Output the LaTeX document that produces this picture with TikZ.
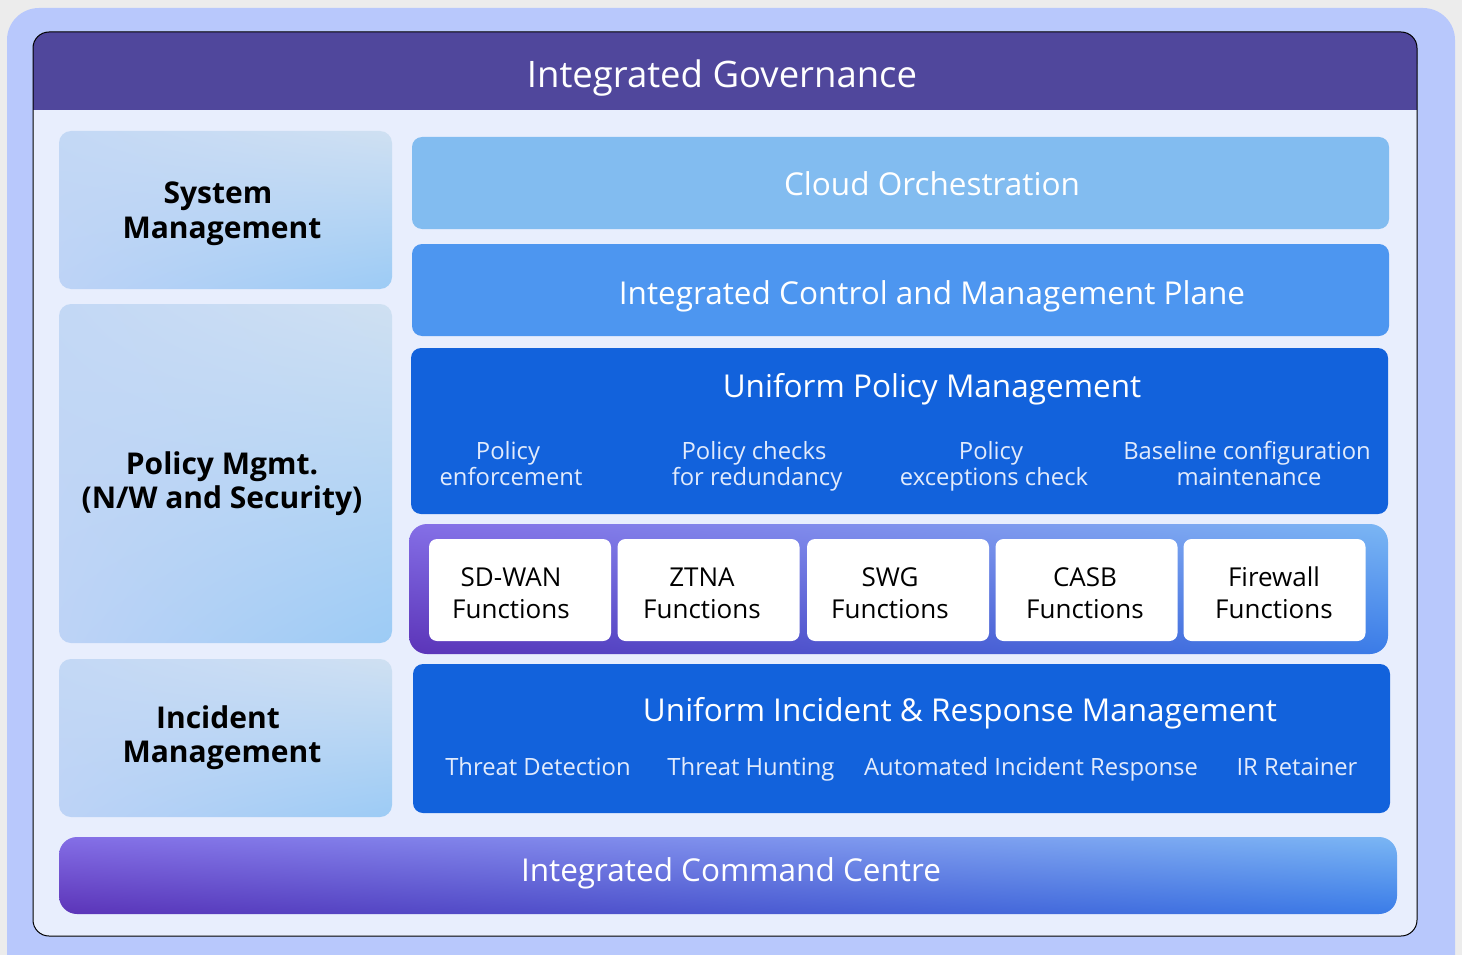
\documentclass[tikz,border=0pt]{standalone}
\usepackage{fontspec}
\setmainfont{Open Sans}
\usetikzlibrary{shadings}
\definecolor{bggray}{HTML}{ECECEC}
\definecolor{lav}{HTML}{B8C8FC}
\definecolor{panel}{HTML}{E8EEFD}
\definecolor{hdr}{HTML}{50479C}
\definecolor{cloudc}{HTML}{82BCF0}
\definecolor{ctrlc}{HTML}{4D96F0}
\definecolor{deepc}{HTML}{1262DC}
\definecolor{subc}{HTML}{E2EBFC}
\definecolor{lbUL}{HTML}{C3D8F5}
\definecolor{lbUR}{HTML}{CFE0F2}
\definecolor{lbLL}{HTML}{BDD3F6}
\definecolor{lbLR}{HTML}{9CCBF5}
\definecolor{gUL}{HTML}{846EE6}
\definecolor{gUR}{HTML}{7AB6F4}
\definecolor{gLL}{HTML}{5C34B8}
\definecolor{gLR}{HTML}{3A7CE8}
\tikzset{
  leftbox/.style={rounded corners=12pt, minimum width=333pt, inner sep=0pt,
    upper left=lbUL, upper right=lbUR, lower left=lbLL, lower right=lbLR},
  rbox/.style={rounded corners=10pt, minimum width=977pt, inner sep=0pt},
  fnbox/.style={fill=white, rounded corners=8pt, minimum width=182pt, minimum height=102pt, inner sep=0pt},
  gradbar/.style={inner sep=0pt,
    upper left=gUL, upper right=gUR, lower left=gLL, lower right=gLR},
  lbl/.style={font=\fontsize{30}{34}\selectfont\bfseries, text=black, inner sep=0pt, anchor=base},
  head/.style={font=\fontsize{31.5}{36}\selectfont, text=white, inner sep=0pt, anchor=base},
  sub/.style={font=\fontsize{23.8}{27}\selectfont, text=subc, inner sep=0pt, anchor=base},
  fn/.style={font=\fontsize{26}{32}\selectfont, text=black, inner sep=0pt, anchor=base}
}
\begin{document}
\begin{tikzpicture}[x=1pt,y=-1pt]
\useasboundingbox (0,0) rectangle (1462,955);
\clip (0,0) rectangle (1462,955);
\fill[bggray] (0,0) rectangle (1462,955);
\fill[lav, rounded corners=32pt] (7,8) rectangle (1455,995);
% panel
\fill[panel, rounded corners=16pt] (33,32) rectangle (1417,936);
\fill[hdr, rounded corners=16pt] (33,32) rectangle (1417,80);
\fill[hdr] (33,60) rectangle (1417,110);
\draw[black, line width=1pt, rounded corners=16pt] (33,32) rectangle (1417,936);
\node[head, font=\fontsize{36.5}{40}\selectfont] (title) at (722,88) {Integrated Governance};

% left column
\node[leftbox, minimum height=158pt] (sysbox) at (225.5,210) {};
\node[lbl] (syslbl1) at (218,204) {System};
\node[lbl] (syslbl2) at (222,238) {Management};
\node[leftbox, minimum height=339pt] (polbox) at (225.5,473.5) {};
\node[lbl] (pollbl1) at (222,474) {Policy Mgmt.};
\node[lbl] (pollbl2) at (222,508) {(N/W and Security)};
\node[leftbox, minimum height=158pt] (incbox) at (225.5,738) {};
\node[lbl] (inclbl1) at (218,728) {Incident};
\node[lbl] (inclbl2) at (222,762.5) {Management};

% right column
\node[rbox, fill=cloudc, minimum height=92pt] (cloud) at (900.5,183) {};
\node[head] (cloudt) at (932,195) {Cloud Orchestration};
\node[rbox, fill=ctrlc, minimum height=92pt] (ctrl) at (900.5,290) {};
\node[head] (ctrlt) at (932,304) {Integrated Control and Management Plane};
\node[rbox, fill=deepc, minimum height=166pt] (upm) at (899.5,431) {};
\node[head] (upmt) at (932,397) {Uniform Policy Management};
\node[sub] (s1a) at (508,459) {Policy};
\node[sub] (s1b) at (511,485) {enforcement};
\node[sub] (s2a) at (754,459) {Policy checks};
\node[sub] (s2b) at (757,485) {for redundancy};
\node[sub] (s3a) at (991,459) {Policy};
\node[sub] (s3b) at (994,485) {exceptions check};
\node[sub] (s4a) at (1247,459) {Baseline configuration};
\node[sub] (s4b) at (1249,485) {maintenance};

% functions strip
\node[gradbar, rounded corners=18pt, minimum width=979pt, minimum height=130pt] (strip) at (898.5,589) {};
\node[fnbox] (f1) at (520,590) {};
\node[fnbox] (f2) at (708.5,590) {};
\node[fnbox] (f3) at (898,590) {};
\node[fnbox] (f4) at (1086.5,590) {};
\node[fnbox] (f5) at (1274.5,590) {};
\node[fn] (f1a) at (511,586) {SD-WAN};
\node[fn] (f1b) at (511,618) {Functions};
\node[fn] (f2a) at (702,586) {ZTNA};
\node[fn] (f2b) at (702,618) {Functions};
\node[fn] (f3a) at (890,586) {SWG};
\node[fn] (f3b) at (890,618) {Functions};
\node[fn] (f4a) at (1085,586) {CASB};
\node[fn] (f4b) at (1085,618) {Functions};
\node[fn] (f5a) at (1274,586) {Firewall};
\node[fn] (f5b) at (1274,618) {Functions};

% incident
\node[rbox, fill=deepc, minimum height=149pt] (uir) at (901.5,738.5) {};
\node[head] (uirt) at (960,721.5) {Uniform Incident \& Response Management};
\node[sub] (i1) at (538,775) {Threat Detection};
\node[sub] (i2) at (751,775) {Threat Hunting};
\node[sub] (i3) at (1031,775) {Automated Incident Response};
\node[sub] (i4) at (1297,775) {IR Retainer};

% command centre
\node[gradbar, rounded corners=18pt, minimum width=1338pt, minimum height=77pt] (cmd) at (728,875.5) {};
\node[head] (cmdt) at (731,881.5) {Integrated Command Centre};
\end{tikzpicture}
\end{document}
